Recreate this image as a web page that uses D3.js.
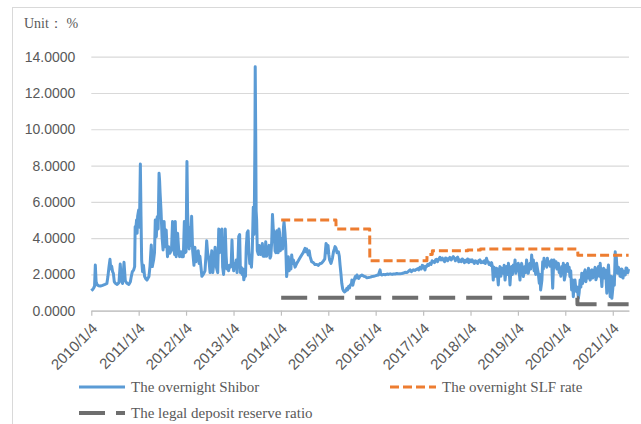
<!DOCTYPE html>
<html>
<head>
<meta charset="utf-8">
<script src="https://cdn.jsdelivr.net/npm/d3@7"></script>
<style>
  body { margin: 0; background: #fff; }
  svg { display: block; }
</style>
</head>
<body>
<script>
// Overnight Shibor (date, %)
const shibor = [
  // 2010
  ["2010-01-04",1.10],["2010-01-12",1.15],["2010-01-22",1.25],["2010-01-29",1.35],["2010-02-04",2.52],["2010-02-10",1.60],
  ["2010-02-19",1.42],["2010-03-01",1.38],["2010-03-15",1.36],["2010-04-01",1.40],["2010-04-20",1.45],["2010-05-04",1.50],
  ["2010-05-12",1.88],["2010-05-20",2.40],["2010-05-28",2.83],["2010-06-03",2.30],["2010-06-10",2.45],["2010-06-17",2.15],
  ["2010-06-23",2.06],["2010-06-30",1.60],["2010-07-08",1.51],["2010-07-22",1.45],["2010-08-05",1.55],["2010-08-15",2.57],
  ["2010-08-23",1.69],["2010-09-02",1.50],["2010-09-13",2.67],["2010-09-23",1.65],["2010-10-05",1.51],["2010-10-20",1.45],
  ["2010-11-01",1.60],["2010-11-08",1.88],["2010-11-16",2.15],["2010-11-26",2.24],["2010-12-04",2.43],["2010-12-08",4.63],
  ["2010-12-12",4.45],["2010-12-19",5.00],["2010-12-23",4.27],["2010-12-27",5.20],
  // 2011
  ["2011-01-04",5.55],["2011-01-10",4.60],["2011-01-17",8.09],["2011-01-22",5.20],["2011-01-27",2.79],["2011-02-03",2.15],
  ["2011-02-10",2.50],["2011-02-19",1.88],["2011-03-01",1.75],["2011-03-09",1.69],["2011-03-24",1.88],["2011-04-01",2.43],
  ["2011-04-11",3.62],["2011-04-19",2.43],["2011-04-29",2.79],["2011-05-06",3.20],["2011-05-12",5.00],["2011-05-20",4.08],
  ["2011-05-27",5.18],["2011-06-03",4.50],["2011-06-10",7.57],["2011-06-14",7.20],["2011-06-18",6.50],["2011-06-25",5.55],
  ["2011-07-03",4.08],["2011-07-11",3.35],["2011-07-19",4.91],["2011-07-27",3.53],["2011-08-04",4.45],["2011-08-14",2.98],
  ["2011-08-22",3.53],["2011-09-01",3.17],["2011-09-14",3.35],["2011-09-22",4.91],["2011-09-30",3.53],["2011-10-08",3.10],
  ["2011-10-13",4.91],["2011-10-20",2.98],["2011-10-31",4.27],["2011-11-08",3.40],["2011-11-15",2.98],["2011-11-26",3.25],
  ["2011-12-03",2.98],["2011-12-14",2.98],["2011-12-22",4.91],["2011-12-28",3.20],
  // 2012
  ["2012-01-04",3.25],["2012-01-11",8.22],["2012-01-16",5.40],["2012-01-21",4.50],["2012-01-28",3.40],["2012-02-03",4.60],
  ["2012-02-10",3.60],["2012-02-16",5.20],["2012-02-24",3.30],["2012-03-05",2.50],["2012-03-12",3.50],["2012-03-20",2.70],
  ["2012-03-30",3.20],["2012-04-07",3.30],["2012-04-14",2.60],["2012-04-20",3.00],["2012-04-28",2.40],["2012-05-05",1.90],
  ["2012-05-16",2.00],["2012-05-29",2.20],["2012-06-05",3.00],["2012-06-11",3.85],["2012-06-18",3.20],["2012-06-24",3.00],
  ["2012-07-01",2.60],["2012-07-07",2.10],["2012-07-14",2.60],["2012-07-20",3.30],["2012-07-28",2.10],["2012-08-08",2.80],
  ["2012-08-15",3.50],["2012-08-22",2.50],["2012-08-28",2.30],["2012-09-04",2.10],["2012-09-12",4.50],["2012-09-18",3.20],
  ["2012-09-26",4.40],["2012-10-06",4.50],["2012-10-12",2.40],["2012-10-19",2.00],["2012-10-26",2.60],["2012-11-01",4.50],
  ["2012-11-08",3.00],["2012-11-14",2.30],["2012-11-20",2.50],["2012-11-27",2.20],["2012-12-04",2.50],["2012-12-10",2.40],
  ["2012-12-17",2.60],["2012-12-23",3.90],["2012-12-30",2.50],
  // 2013
  ["2013-01-05",2.20],["2013-01-12",2.60],["2013-01-18",2.40],["2013-01-25",2.80],["2013-01-31",2.10],["2013-02-08",3.00],
  ["2013-02-13",4.10],["2013-02-20",4.20],["2013-02-26",2.10],["2013-03-04",2.40],["2013-03-11",2.00],["2013-03-18",2.30],
  ["2013-03-24",1.70],["2013-04-01",2.00],["2013-04-06",1.90],["2013-04-12",3.50],["2013-04-19",4.30],["2013-04-26",4.40],
  ["2013-05-02",3.30],["2013-05-09",2.60],["2013-05-15",2.80],["2013-05-22",2.40],["2013-05-28",3.20],["2013-06-05",5.70],
  ["2013-06-10",4.20],["2013-06-14",6.00],["2013-06-18",9.70],["2013-06-20",13.44],["2013-06-24",9.50],["2013-06-27",5.50],
  ["2013-07-01",5.00],["2013-07-06",3.30],["2013-07-14",3.10],["2013-07-22",3.60],["2013-08-01",3.10],["2013-08-08",3.30],
  ["2013-08-14",3.70],["2013-08-20",3.00],["2013-08-27",3.20],["2013-09-03",3.00],["2013-09-09",3.80],["2013-09-15",3.00],
  ["2013-09-22",3.20],["2013-10-05",3.60],["2013-10-12",2.90],["2013-10-18",3.00],["2013-10-25",3.80],["2013-10-31",5.30],
  ["2013-11-06",4.50],["2013-11-13",4.30],["2013-11-20",3.30],["2013-11-26",3.20],["2013-12-04",4.40],["2013-12-10",3.20],
  ["2013-12-14",3.20],["2013-12-20",4.50],["2013-12-25",4.30],["2013-12-30",3.30],
  // 2014
  ["2014-01-06",3.50],["2014-01-10",4.00],["2014-01-17",3.40],["2014-01-24",4.60],["2014-01-28",4.90],["2014-02-04",4.30],
  ["2014-02-10",3.60],["2014-02-17",1.88],["2014-02-24",2.40],["2014-03-02",2.98],["2014-03-08",2.20],["2014-03-15",2.80],
  ["2014-03-22",2.30],["2014-03-28",3.07],["2014-04-04",2.60],["2014-04-10",2.80],["2014-04-23",2.40],["2014-05-06",2.61],
  ["2014-05-18",2.75],["2014-05-30",2.90],["2014-06-13",3.07],["2014-06-25",3.20],["2014-07-09",3.44],["2014-07-15",3.25],
  ["2014-07-22",3.40],["2014-08-03",3.07],["2014-08-10",3.30],["2014-08-17",2.98],["2014-08-29",2.70],["2014-09-11",2.65],
  ["2014-09-23",2.55],["2014-10-08",2.55],["2014-10-20",2.50],["2014-11-02",2.60],["2014-11-14",2.62],["2014-11-28",2.75],
  ["2014-12-08",2.85],["2014-12-14",3.40],["2014-12-18",3.71],["2014-12-24",3.20],
  // 2015
  ["2015-01-02",3.60],["2015-01-08",3.10],["2015-01-14",2.80],["2015-01-25",2.61],["2015-02-05",2.90],["2015-02-13",3.25],
  ["2015-02-20",3.40],["2015-02-25",3.53],["2015-03-05",3.44],["2015-03-12",3.20],["2015-03-23",3.25],["2015-03-30",3.00],
  ["2015-04-05",2.50],["2015-04-12",2.00],["2015-04-18",1.51],["2015-04-25",1.20],["2015-05-01",1.10],["2015-05-10",1.03],
  ["2015-05-19",1.10],["2015-05-27",1.24],["2015-06-02",1.15],["2015-06-09",1.33],["2015-06-16",1.25],["2015-06-22",1.42],
  ["2015-07-01",1.45],["2015-07-05",1.69],["2015-07-12",1.40],["2015-07-18",1.60],["2015-07-25",1.75],["2015-07-31",1.88],
  ["2015-08-07",1.80],["2015-08-13",1.97],["2015-08-20",1.85],["2015-08-26",1.78],["2015-09-05",1.90],["2015-09-20",1.97],
  ["2015-10-05",1.90],["2015-10-15",1.88],["2015-10-28",1.82],["2015-11-10",1.83],["2015-11-25",1.85],["2015-12-06",1.88],
  ["2015-12-20",1.90],["2015-12-31",1.92],
  // 2016
  ["2016-01-12",1.95],["2016-01-25",1.97],["2016-02-07",2.25],["2016-02-12",2.00],["2016-02-20",1.97],["2016-03-05",2.00],
  ["2016-03-17",1.98],["2016-04-01",2.02],["2016-04-11",2.00],["2016-04-25",2.03],["2016-05-10",2.00],["2016-05-20",2.02],
  ["2016-06-02",2.02],["2016-06-16",2.05],["2016-06-30",2.03],["2016-07-09",2.04],["2016-07-23",2.05],["2016-08-08",2.08],
  ["2016-08-18",2.12],["2016-08-29",2.10],["2016-09-10",2.15],["2016-09-25",2.25],["2016-10-05",2.15],["2016-10-20",2.25],
  ["2016-11-01",2.22],["2016-11-14",2.28],["2016-11-25",2.32],["2016-12-01",2.25],["2016-12-10",2.39],["2016-12-20",2.30],
  ["2016-12-28",2.50],
  // 2017
  ["2017-01-05",2.46],["2017-01-12",2.35],["2017-01-18",2.25],["2017-01-24",2.45],["2017-01-30",2.43],["2017-02-08",2.55],
  ["2017-02-15",2.50],["2017-02-25",2.61],["2017-03-06",2.55],["2017-03-14",2.75],["2017-03-22",2.70],["2017-04-01",2.65],
  ["2017-04-10",2.80],["2017-04-17",2.83],["2017-04-25",2.70],["2017-05-05",2.85],["2017-05-13",2.94],["2017-05-22",2.80],
  ["2017-06-01",2.90],["2017-06-08",2.80],["2017-06-18",2.70],["2017-06-25",2.90],["2017-07-03",2.89],["2017-07-12",2.75],
  ["2017-07-20",2.85],["2017-07-29",2.94],["2017-08-08",2.80],["2017-08-16",2.90],["2017-08-24",2.98],["2017-09-04",2.85],
  ["2017-09-10",2.75],["2017-09-18",2.89],["2017-09-27",2.95],["2017-10-05",2.70],["2017-10-14",2.80],["2017-10-24",2.70],
  ["2017-11-01",2.85],["2017-11-09",2.80],["2017-11-18",2.65],["2017-11-26",2.78],["2017-12-04",2.70],["2017-12-12",2.85],
  ["2017-12-21",2.65],["2017-12-30",2.80],
  // 2018
  ["2018-01-08",2.70],["2018-01-16",2.80],["2018-01-25",2.70],["2018-02-02",2.60],["2018-02-10",2.75],["2018-02-19",2.70],
  ["2018-02-28",2.60],["2018-03-08",2.75],["2018-03-17",2.80],["2018-03-26",2.65],["2018-04-03",2.70],["2018-04-11",2.65],
  ["2018-04-20",2.75],["2018-04-28",2.60],["2018-05-07",2.89],["2018-05-14",2.70],["2018-05-20",2.70],["2018-05-27",2.55],
  ["2018-06-02",2.61],["2018-06-10",2.50],["2018-06-15",2.65],["2018-06-22",2.40],["2018-06-28",1.69],["2018-07-04",2.40],
  ["2018-07-11",2.25],["2018-07-17",1.90],["2018-07-24",2.34],["2018-07-30",2.00],["2018-08-06",1.42],["2018-08-12",2.20],
  ["2018-08-19",2.43],["2018-08-26",1.90],["2018-09-01",2.34],["2018-09-08",2.10],["2018-09-14",2.06],["2018-09-20",2.50],
  ["2018-09-27",1.69],["2018-10-04",2.20],["2018-10-10",2.43],["2018-10-17",2.00],["2018-10-23",2.61],["2018-10-29",2.20],
  ["2018-11-04",1.42],["2018-11-10",2.10],["2018-11-17",2.43],["2018-11-23",2.00],["2018-11-30",2.52],["2018-12-06",2.20],
  ["2018-12-13",2.80],["2018-12-19",2.06],["2018-12-26",2.34],
  // 2019
  ["2019-01-02",2.55],["2019-01-07",2.61],["2019-01-13",2.20],["2019-01-20",1.69],["2019-01-26",2.40],["2019-02-02",2.61],
  ["2019-02-08",2.30],["2019-02-15",1.88],["2019-02-21",2.20],["2019-02-27",2.43],["2019-03-05",2.10],["2019-03-12",2.80],
  ["2019-03-18",2.30],["2019-03-25",2.06],["2019-04-01",2.40],["2019-04-07",2.61],["2019-04-13",2.30],["2019-04-20",3.07],
  ["2019-04-26",2.50],["2019-05-03",2.80],["2019-05-09",2.20],["2019-05-15",2.34],["2019-05-21",2.00],["2019-05-28",2.61],
  ["2019-06-04",2.30],["2019-06-10",2.06],["2019-06-18",1.51],["2019-06-23",2.00],["2019-06-28",1.14],["2019-07-03",1.40],
  ["2019-07-08",1.69],["2019-07-14",2.70],["2019-07-19",2.30],["2019-07-24",2.89],["2019-07-30",2.50],["2019-08-04",2.60],
  ["2019-08-08",2.70],["2019-08-14",2.40],["2019-08-19",2.89],["2019-08-26",2.55],["2019-09-03",2.70],["2019-09-09",2.45],
  ["2019-09-15",2.60],["2019-09-21",2.80],["2019-09-29",1.24],["2019-10-04",2.20],["2019-10-09",2.80],["2019-10-15",2.40],
  ["2019-10-20",2.60],["2019-10-25",2.70],["2019-11-01",2.30],["2019-11-06",2.50],["2019-11-12",2.61],["2019-11-18",2.10],
  ["2019-11-25",2.25],["2019-12-01",1.90],["2019-12-08",2.43],["2019-12-14",2.20],["2019-12-20",2.61],["2019-12-28",1.69],
  // 2020
  ["2020-01-04",1.97],["2020-01-09",2.50],["2020-01-15",2.34],["2020-01-21",2.60],["2020-01-27",2.16],["2020-02-03",2.40],
  ["2020-02-09",1.88],["2020-02-15",2.20],["2020-02-22",1.14],["2020-02-28",1.70],["2020-03-06",0.77],["2020-03-12",1.50],
  ["2020-03-19",1.69],["2020-03-25",1.20],["2020-04-01",1.05],["2020-04-07",1.30],["2020-04-14",0.68],["2020-04-20",1.00],
  ["2020-04-27",1.69],["2020-05-03",1.30],["2020-05-10",2.06],["2020-05-16",1.50],["2020-05-23",1.78],["2020-05-29",2.10],
  ["2020-06-05",2.25],["2020-06-11",1.60],["2020-06-18",2.06],["2020-06-24",1.80],["2020-07-01",2.34],["2020-07-07",1.90],
  ["2020-07-14",1.69],["2020-07-20",2.20],["2020-07-27",2.25],["2020-08-02",1.80],["2020-08-09",1.97],["2020-08-15",2.20],
  ["2020-08-21",2.39],["2020-08-27",1.70],["2020-09-03",1.88],["2020-09-09",2.20],["2020-09-16",2.43],["2020-09-22",1.90],
  ["2020-09-29",2.61],["2020-10-05",2.00],["2020-10-12",1.33],["2020-10-18",2.10],["2020-10-25",2.34],["2020-10-31",1.80],
  ["2020-11-07",2.25],["2020-11-13",1.80],["2020-11-19",0.96],["2020-11-25",2.10],["2020-12-02",2.52],["2020-12-08",1.70],
  ["2020-12-15",0.77],["2020-12-21",1.90],["2020-12-28",0.68],
  // 2021
  ["2021-01-04",1.20],["2021-01-10",1.88],["2021-01-16",1.40],["2021-01-23",3.25],["2021-01-27",2.50],["2021-01-31",2.98],
  ["2021-02-05",2.40],["2021-02-10",2.06],["2021-02-16",2.40],["2021-02-23",2.25],["2021-03-01",1.90],["2021-03-08",1.88],
  ["2021-03-13",2.30],["2021-03-18",2.25],["2021-03-24",1.80],["2021-03-29",2.16],["2021-04-04",2.00],["2021-04-10",1.97],
  ["2021-04-16",2.35],["2021-04-23",2.34],["2021-04-30",2.10],["2021-05-06",2.30]
];

// Overnight SLF rate (step changes)
const slf = [
  ["2014-01-06",5.00],["2015-03-04",5.00],["2015-03-05",4.50],["2015-11-19",4.50],["2015-11-20",2.75],
  ["2017-02-02",2.75],["2017-02-03",3.10],["2017-03-15",3.10],["2017-03-16",3.30],["2017-12-13",3.30],
  ["2017-12-14",3.35],["2018-03-21",3.35],["2018-03-22",3.40],["2020-04-09",3.40],["2020-04-10",3.05],
  ["2021-05-06",3.05]
];

// Legal deposit reserve ratio
const reserve = [
  ["2014-01-06",0.72],["2020-04-06",0.72],["2020-04-07",0.35],["2021-05-06",0.35]
];

const yTicks = [0, 2, 4, 6, 8, 10, 12, 14];
const xTickLabels = ["2010/1/4","2011/1/4","2012/1/4","2013/1/4","2014/1/4","2015/1/4",
  "2016/1/4","2017/1/4","2018/1/4","2019/1/4","2020/1/4","2021/1/4"];
const seriesNames = ["The overnight Shibor", "The overnight SLF rate", "The legal deposit reserve ratio"];
const unitLabel = "Unit\uFF1A %";

const W = 641, H = 424;
const parseDay = d3.timeParse("%Y-%m-%d");
const parseTick = d3.timeParse("%Y/%m/%d");
const toPoints = arr => arr.map(d => ({date: parseDay(d[0]), value: d[1]}));

const x = d3.scaleTime()
    .domain([parseDay("2010-01-04"), parseDay("2021-05-09")])
    .range([91.3, 629]);
const y = d3.scaleLinear()
    .domain([0, 14])
    .range([310.7, 56.7]);

const svg = d3.select('body').append('svg')
    .attr('width', W)
    .attr('height', H);

// chart area frame
svg.append('rect')
    .attr('x', 12.5).attr('y', 7.5)
    .attr('width', 700).attr('height', 500)
    .attr('fill', '#fff')
    .attr('stroke', '#d9d9d9');

// y axis: labels + gridlines
const yAxis = svg.append('g')
    .attr('transform', 'translate(91.3,0)')
    .call(d3.axisLeft(y)
        .tickValues(yTicks)
        .tickSize(-(629 - 91.3))
        .tickPadding(16)
        .tickFormat(d3.format('.4f')));
yAxis.select('.domain').remove();
yAxis.selectAll('.tick line').attr('stroke', '#d9d9d9').attr('stroke-width', 1.2);
yAxis.selectAll('.tick text')
    .attr('fill', '#595959')
    .style('font-family', '"Liberation Sans", Arial, sans-serif')
    .style('font-size', '14px');

// x axis
const xAxis = svg.append('g')
    .attr('transform', 'translate(0,310.7)')
    .call(d3.axisBottom(x)
        .tickValues(xTickLabels.map(parseTick))
        .tickSize(5)
        .tickSizeOuter(0)
        .tickFormat((d, i) => xTickLabels[i]));
xAxis.select('.domain').attr('stroke', '#bfbfbf').attr('stroke-width', 1.2);
xAxis.selectAll('.tick line').attr('stroke', '#bfbfbf').attr('stroke-width', 1.2);
xAxis.selectAll('.tick text')
    .attr('x', 0).attr('y', 0).attr('dy', '0.35em')
    .attr('text-anchor', 'end')
    .attr('transform', 'translate(3,15) rotate(-45)')
    .attr('fill', '#595959')
    .style('font-family', '"Liberation Sans", Arial, sans-serif')
    .style('font-size', '15px');

const line = d3.line()
    .x(d => x(d.date))
    .y(d => y(d.value));

const styles = [
    {color: '#5b9bd5', width: 3, dash: null},
    {color: '#ed7d31', width: 3, dash: '9,4'},
    {color: '#6e6e6e', width: 4, dash: '26,11'}
];

[shibor, slf, reserve].forEach((s, i) => {
    svg.append('path')
        .datum(toPoints(s))
        .attr('d', line)
        .attr('fill', 'none')
        .attr('stroke', styles[i].color)
        .attr('stroke-width', styles[i].width)
        .attr('stroke-linejoin', 'round')
        .attr('stroke-dasharray', styles[i].dash);
});

// unit label
svg.append('text')
    .attr('x', 24).attr('y', 28)
    .attr('fill', '#595959')
    .style('font-family', '"Liberation Serif", "Times New Roman", serif')
    .style('font-size', '14px')
    .text(unitLabel);

// legend
const legendPos = [[79, 387], [390, 387], [79, 413]];
seriesNames.forEach((name, i) => {
    const [lx, ly] = legendPos[i];
    svg.append('line')
        .attr('x1', lx).attr('x2', lx + 46)
        .attr('y1', ly).attr('y2', ly)
        .attr('stroke', styles[i].color)
        .attr('stroke-width', styles[i].width)
        .attr('stroke-dasharray', styles[i].dash);
    svg.append('text')
        .attr('x', lx + 52).attr('y', ly)
        .attr('dy', '0.35em')
        .attr('fill', '#595959')
        .style('font-family', '"Liberation Serif", "Times New Roman", serif')
        .style('font-size', '15px')
        .text(name);
});
</script>
</body>
</html>
